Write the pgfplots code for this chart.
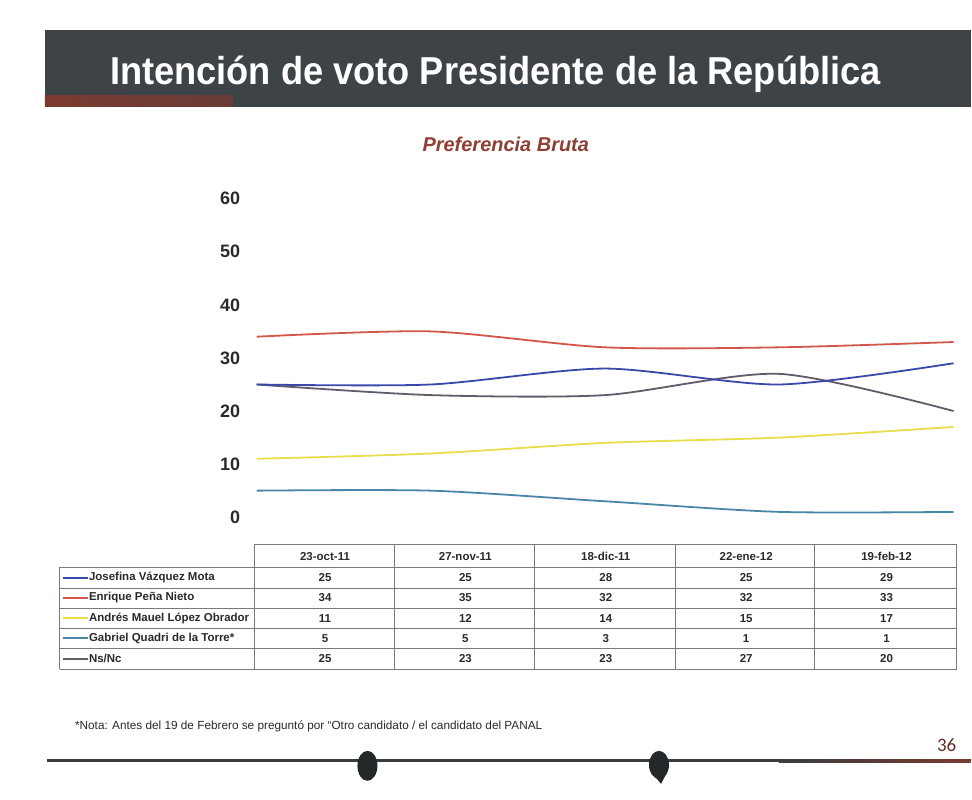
\documentclass[border=0pt]{standalone}
\usepackage{pgfplots}
\usepackage{pgfplotstable}
\pgfplotsset{compat=1.18}
\usepackage{fontspec}
\setmainfont{Liberation Sans}
\newfontfamily\numfont{Carlito}

\definecolor{banner}{HTML}{3E4347}
\definecolor{accent}{HTML}{7A3A30}
\definecolor{subred}{HTML}{8E3F36}
\definecolor{cJVM}{HTML}{3A48AA}
\definecolor{cEPN}{HTML}{D2564A}
\definecolor{cAMLO}{HTML}{E6DE4A}
\definecolor{cGQT}{HTML}{4A86A6}
\definecolor{cNSNC}{HTML}{625C6A}
\definecolor{txt}{HTML}{2A2A2A}
\definecolor{grid}{HTML}{7A7A7A}

\pgfplotstableread{
x JVM EPN AMLO GQT NSNC
0 25 34 11 5 25
1 25 35 12 5 23
2 28 32 14 3 23
3 25 32 15 1 27
4 29 33 17 1 20
}\datatable

\begin{document}
\begin{tikzpicture}
% ---------- page decorations (pixel coordinates, y downwards) ----------
\begin{scope}[x=1pt,y=-1pt,shift={(0pt,801pt)}]
  \fill[white] (0,0) rectangle (972,801);
  % banner
  \fill[banner] (45,30) rectangle (972,107);
  \shade[left color=accent, right color=accent!70!banner] (45,96) rectangle (233,107);
  \node[anchor=base west, inner sep=0pt, text=white, xscale=0.93,
        font=\fontsize{39}{44}\selectfont\bfseries] at (110,85)
        {Intención de voto Presidente de la República};
  % subtitle
  \node[anchor=base west, inner sep=0pt, text=subred,
        font=\fontsize{20}{24}\selectfont\bfseries\itshape] at (423,152)
        {Preferencia Bruta};
  % data table grid
  \draw[grid, line width=0.9pt] (255,545) -- (958,545);
  \draw[grid, line width=0.9pt] (60,568) -- (958,568);
  \foreach \yy in {589,609,629,649,670}{
    \draw[grid, line width=0.9pt] (60,\yy) -- (958,\yy);
  }
  \draw[grid, line width=0.9pt] (60,568) -- (60,670);
  \foreach \xx in {255,395,535,676,816,958}{
    \draw[grid, line width=0.9pt] (\xx,545) -- (\xx,670);
  }
  % header labels
  \foreach \lab [count=\c from 0] in {23-oct-11,27-nov-11,18-dic-11,22-ene-12,19-feb-12}{
    \node[text=txt, font=\fontsize{11.5}{13}\selectfont\bfseries, inner sep=0pt]
      at ({325.5+140.6*\c},557) {\lab};
  }
  % row labels with legend lines
  \foreach \nm/\col [count=\i from 0] in {{Josefina Vázquez Mota}/cJVM,{Enrique Peña Nieto}/cEPN,{Andrés Mauel López Obrador}/cAMLO,{Gabriel Quadri de la Torre*}/cGQT,{Ns/Nc}/cNSNC}{
    \draw[color=\col, line width=2pt] (63,{578.5+20.3*\i}) -- (88,{578.5+20.3*\i});
    \node[anchor=west, text=txt, font=\fontsize{11.5}{13}\selectfont\bfseries, inner sep=0pt]
      at (89,{578.5+20.3*\i}) {\nm};
  }
  % values
  \foreach \s [count=\i from 0] in {JVM,EPN,AMLO,GQT,NSNC}{
    \foreach \c in {0,...,4}{
      \pgfplotstablegetelem{\c}{\s}\of{\datatable}
      \node[text=txt, font=\fontsize{11.5}{13}\selectfont\bfseries, inner sep=0pt]
        at ({325.5+140.6*\c},{578.5+20.3*\i}) {\pgfplotsretval};
    }
  }
  % footnote
  \node[anchor=base west, inner sep=0pt, text=txt, font=\fontsize{11.8}{13}\selectfont]
    at (75,731) {*Nota: Antes del 19 de Febrero se preguntó por \textquotedblleft Otro candidato / el candidato del PANAL};
  % bottom rule
  \draw[line width=3pt, color=banner!90!black] (47,762) -- (972,762);
  \shade[left color=banner!90!black, right color=accent] (780,760.5) rectangle (972,763.5);
  \fill[banner!60!black] (368,767) ellipse (10 and 15);
  \fill[banner!60!black] (660,766) ellipse (10 and 14);
  \fill[banner!60!black] (651,772) -- (669,772) -- (662,785) -- cycle;
  % page number
  \node[anchor=base east, inner sep=0pt, text=accent!80!black, font=\numfont\fontsize{19}{22}\selectfont]
    at (958,753) {36};
\end{scope}

% ---------- chart ----------
\begin{axis}[
  at={(257pt,283pt)}, anchor=south west,
  scale only axis, width=698pt, height=319pt,
  xmin=0, xmax=4, ymin=0, ymax=60,
  clip=false,
  axis line style={draw=none},
  xtick=\empty,
  ytick={0,10,20,30,40,50,60},
  major tick length=0pt,
  /pgf/number format/assume math mode=true,
  yticklabel style={font=\fontsize{18}{20}\selectfont\bfseries, text=txt, xshift=-13pt},
  every axis plot/.append style={smooth, tension=0.45, line width=1.8pt, no marks},
]
  \addplot[cEPN]  table[x=x,y=EPN]{\datatable};
  \addplot[cAMLO] table[x=x,y=AMLO]{\datatable};
  \addplot[cGQT]  table[x=x,y=GQT]{\datatable};
  \addplot[cNSNC] table[x=x,y=NSNC]{\datatable};
  \addplot[cJVM]  table[x=x,y=JVM]{\datatable};
\end{axis}
\end{tikzpicture}
\end{document}
